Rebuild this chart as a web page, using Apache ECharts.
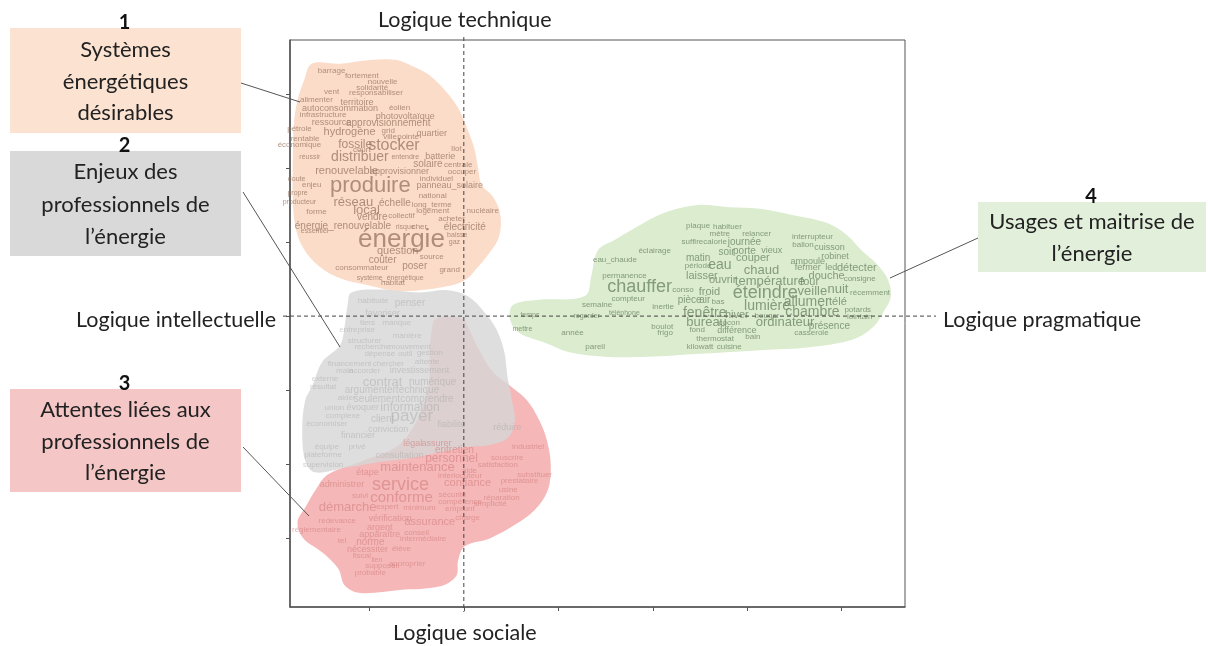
<!DOCTYPE html>
<html>
<head>
<meta charset="utf-8">
<script src="https://cdn.jsdelivr.net/npm/echarts@6/dist/echarts.min.js"></script>
<style>
html, body { margin: 0; padding: 0; background: #fff; }
#main { width: 1208px; height: 646px; }
</style>
</head>
<body>
<div id="main"></div>
<script>
// mots : [mot, x, y, fréquence]
const motsSystemes = [
    ['barrage', -1.40, 3.32, 2], ['fortement', -1.08, 3.24, 2], ['nouvelle', -0.86, 3.16, 2],
    ['solidarité', -0.97, 3.08, 2], ['vent', -1.40, 3.03, 2], ['responsabiliser', -0.93, 3.01, 2],
    ['alimenter', -1.56, 2.92, 2], ['territoire', -1.13, 2.89, 3], ['autoconsommation', -1.31, 2.81, 3],
    ['éolien', -0.68, 2.82, 2], ['infrastructure', -1.49, 2.72, 2], ['photovoltaïque', -0.62, 2.70, 3],
    ['ressource', -1.40, 2.62, 3], ['approvisionnement', -0.80, 2.61, 4], ['pétrole', -1.74, 2.53, 2],
    ['hydrogène', -1.21, 2.49, 5], ['grid', -0.80, 2.50, 2], ['ville', -0.78, 2.42, 2],
    ['pointe', -0.59, 2.42, 2], ['quartier', -0.34, 2.46, 3], ['rentable', -1.68, 2.39, 2],
    ['économique', -1.74, 2.31, 2], ['fossile', -1.15, 2.32, 6], ['court', -1.08, 2.24, 2],
    ['stocker', -0.74, 2.30, 10], ['réussir', -1.63, 2.15, 1], ['distribuer', -1.10, 2.15, 8],
    ['entendre', -0.62, 2.15, 1], ['batterie', -0.25, 2.15, 3], ['îlot', -0.08, 2.26, 2],
    ['solaire', -0.38, 2.05, 4], ['centrale', -0.06, 2.04, 2], ['renouvelable', -1.24, 1.96, 5],
    ['approvisionner', -0.68, 1.96, 3], ['occuper', -0.02, 1.95, 2], ['individuel', -0.29, 1.85, 2],
    ['doute', -1.77, 1.85, 1], ['enjeu', -1.61, 1.78, 2], ['produire', -0.99, 1.76, 16],
    ['panneau_solaire', -0.15, 1.77, 3], ['propre', -1.76, 1.66, 1], ['national', -0.33, 1.62, 2],
    ['producteur', -1.74, 1.54, 1], ['réseau', -1.17, 1.54, 7], ['échelle', -0.73, 1.53, 4],
    ['long_terme', -0.34, 1.51, 2], ['local', -1.03, 1.43, 7], ['forme', -1.56, 1.41, 2],
    ['collectif', -0.66, 1.35, 2], ['logement', -0.33, 1.42, 2], ['nucléaire', 0.20, 1.42, 2],
    ['vendre', -0.97, 1.34, 4], ['acheter', -0.13, 1.31, 2], ['énergie_renouvelable', -1.28, 1.22, 4],
    ['risque', -0.62, 1.20, 1], ['cher', -0.47, 1.20, 2], ['électricité', 0.01, 1.20, 4],
    ['essentiel', -1.58, 1.15, 1], ['énergie', -0.66, 1.03, 20], ['baisse', -0.07, 1.09, 1],
    ['gaz', -0.10, 1.00, 1], ['question', -0.70, 0.88, 5], ['source', -0.34, 0.80, 2],
    ['coûter', -0.86, 0.76, 4], ['poser', -0.52, 0.68, 4], ['grand', -0.15, 0.62, 2],
    ['consommateur', -1.08, 0.65, 2], ['système_énergétique', -0.78, 0.51, 1], ['habitat', -0.75, 0.45, 2]
]

const motsEnjeux = [
    ['penser', -0.57, 0.18, 4], ['habitude', -0.96, 0.20, 2], ['favoriser', -0.86, 0.04, 3],
    ['tiers', -1.02, -0.09, 2], ['manque', -0.71, -0.09, 2], ['entreprise', -1.13, -0.19, 2],
    ['manière', -0.60, -0.26, 2], ['structurer', -1.05, -0.34, 2], ['recherche', -0.97, -0.42, 2],
    ['mouvement', -0.57, -0.41, 2], ['dépense', -0.89, -0.51, 2], ['outil', -0.62, -0.51, 2],
    ['gestion', -0.36, -0.49, 2], ['financement', -1.21, -0.64, 2], ['chercher', -0.80, -0.64, 2],
    ['attente', -0.39, -0.62, 2], ['main', -1.26, -0.74, 2], ['accorder', -1.05, -0.74, 2],
    ['investissement', -0.47, -0.74, 3], ['externe', -1.47, -0.85, 2], ['contrat', -0.86, -0.89, 7],
    ['numérique', -0.33, -0.89, 4], ['résultat', -1.49, -0.96, 2], ['argumenter', -0.99, -1.00, 4],
    ['technique', -0.49, -1.00, 4], ['aider', -1.24, -1.11, 2], ['seulement', -0.92, -1.12, 4],
    ['comprendre', -0.39, -1.12, 4], ['union', -1.37, -1.24, 2], ['évoquer', -1.07, -1.24, 3],
    ['information', -0.57, -1.24, 6], ['complexe', -1.28, -1.35, 2], ['client', -0.86, -1.39, 4],
    ['payer', -0.55, -1.35, 11], ['économiser', -1.45, -1.46, 2], ['conviction', -0.80, -1.53, 3],
    ['financier', -1.12, -1.62, 3], ['équipe', -1.45, -1.76, 2], ['privé', -1.13, -1.76, 2],
    ['plateforme', -1.49, -1.88, 2], ['consultation', -0.68, -1.88, 3], ['supervision', -1.49, -2.01, 2],
    ['fiabilité', -0.13, -1.47, 3], ['réduire', 0.46, -1.50, 3]
]

const motsAttentes = [
    ['étape', -1.02, -2.11, 3], ['maintenance', -0.49, -2.05, 7], ['administrer', -1.29, -2.27, 3],
    ['service', -0.67, -2.28, 12], ['suivi', -1.10, -2.43, 2], ['conforme', -0.66, -2.45, 9],
    ['démarche', -1.23, -2.59, 7], ['expert', -0.81, -2.58, 2], ['vérification', -0.78, -2.73, 3],
    ['redevance', -1.34, -2.77, 2], ['réglementaire', -1.56, -2.89, 2], ['argent', -0.89, -2.85, 3],
    ['apparaître', -0.89, -2.95, 3], ['tel', -1.29, -3.03, 2], ['norme', -0.99, -3.05, 4],
    ['nécessiter', -1.02, -3.15, 3], ['élève', -0.66, -3.15, 2], ['fiscal', -1.08, -3.24, 2],
    ['lien', -0.92, -3.30, 1], ['supposer', -0.87, -3.38, 2], ['approprier', -0.60, -3.35, 2],
    ['probable', -0.99, -3.47, 2], ['légal', -0.54, -1.72, 3], ['assurer', -0.29, -1.72, 3],
    ['entretien', -0.10, -1.81, 4], ['personnel', -0.13, -1.92, 6], ['industriel', 0.68, -1.77, 2],
    ['souscrire', 0.46, -1.92, 2], ['satisfaction', 0.36, -2.01, 2], ['aide', 0.06, -2.09, 2],
    ['interlocuteur', -0.04, -2.16, 2], ['substituer', 0.75, -2.15, 2], ['prestataire', 0.59, -2.23, 2],
    ['confiance', 0.04, -2.26, 5], ['usine', 0.47, -2.35, 2], ['sécurité', -0.12, -2.42, 2],
    ['réparation', 0.40, -2.45, 2], ['compétence', -0.04, -2.51, 2], ['simplicité', 0.28, -2.53, 2],
    ['minimum', -0.47, -2.59, 2], ['emprunt', -0.04, -2.61, 2], ['charge', 0.04, -2.72, 2],
    ['assurance', -0.36, -2.78, 5], ['conseil', -0.50, -2.93, 2], ['intermédiaire', -0.43, -3.01, 2]
]

const motsUsages = [
    ['eau_chaude', 1.60, 0.76, 2], ['permanence', 1.70, 0.54, 2], ['chauffer', 1.86, 0.39, 12],
    ['compteur', 1.74, 0.24, 2], ['semaine', 1.41, 0.15, 2], ['temps', 0.70, 0.01, 1],
    ['regarder', 1.30, 0.00, 1], ['téléphone', 1.70, 0.04, 1], ['mettre', 0.62, -0.18, 1],
    ['année', 1.15, -0.23, 2], ['pareil', 1.39, -0.42, 2], ['plaque', 2.48, 1.22, 2],
    ['habituer', 2.79, 1.20, 2], ['mètre', 2.71, 1.11, 2], ['relancer', 3.10, 1.11, 2],
    ['suffire', 2.42, 1.00, 2], ['calorie', 2.66, 1.00, 2], ['journée', 2.97, 1.00, 4],
    ['éclairage', 2.02, 0.88, 2], ['soir', 2.78, 0.86, 4], ['porte', 2.97, 0.88, 4],
    ['vieux', 3.26, 0.88, 3], ['matin', 2.48, 0.78, 4], ['couper', 3.06, 0.78, 5],
    ['période', 2.48, 0.68, 2], ['eau', 2.71, 0.69, 8], ['chaud', 3.15, 0.62, 7],
    ['laisser', 2.52, 0.54, 5], ['ouvrir', 2.74, 0.49, 5], ['température', 3.24, 0.47, 7],
    ['conso', 2.32, 0.36, 2], ['froid', 2.60, 0.32, 5], ['éteindre', 3.19, 0.31, 12],
    ['inertie', 2.11, 0.12, 2], ['pièce', 2.39, 0.22, 4], ['air', 2.55, 0.22, 4],
    ['bas', 2.69, 0.19, 2], ['fenêtre', 2.55, 0.04, 8], ['hiver', 2.89, 0.01, 5],
    ['bouger', 3.21, 0.01, 2], ['lumière', 3.21, 0.14, 8], ['boulot', 2.10, -0.14, 2],
    ['frigo', 2.13, -0.22, 2], ['bureau', 2.57, -0.09, 7], ['cocon', 2.81, -0.09, 2],
    ['ordinateur', 3.40, -0.09, 7], ['fond', 2.47, -0.18, 2], ['différence', 2.89, -0.19, 3],
    ['thermostat', 2.66, -0.30, 2], ['bain', 3.06, -0.28, 2], ['kilowatt', 2.50, -0.41, 2],
    ['cuisine', 2.81, -0.41, 2], ['interrupteur', 3.69, 1.07, 2], ['ballon', 3.59, 0.97, 2],
    ['cuisson', 3.87, 0.92, 3], ['ampoule', 3.64, 0.74, 3], ['robinet', 3.93, 0.80, 3],
    ['fermer', 3.64, 0.65, 3], ['led', 3.89, 0.65, 3], ['détecter', 4.16, 0.65, 5],
    ['douche', 3.84, 0.54, 5], ['consigne', 4.19, 0.50, 2], ['four', 3.66, 0.46, 5],
    ['veille', 3.69, 0.34, 7], ['nuit', 3.96, 0.36, 7], ['récemment', 4.30, 0.31, 2],
    ['allumer', 3.63, 0.19, 8], ['télé', 3.96, 0.19, 5], ['chambre', 3.69, 0.05, 8],
    ['potards', 4.17, 0.09, 2], ['lointain', 4.19, -0.01, 2], ['présence', 3.87, -0.14, 4],
    ['casserole', 3.68, -0.22, 2]
]

// contours des zones
const zoneSystemes = [
    [-1.61, 3.41], [-1.31, 3.41], [-0.99, 3.46], [-0.71, 3.46], [-0.55, 3.38], [-0.38, 3.27],
    [-0.20, 3.05], [-0.06, 2.81], [0.03, 2.55], [0.11, 2.27], [0.15, 2.00], [0.19, 1.77],
    [0.31, 1.61], [0.38, 1.41], [0.39, 1.19], [0.35, 1.00], [0.25, 0.82], [0.14, 0.65],
    [0.02, 0.49], [-0.15, 0.41], [-0.47, 0.35], [-0.73, 0.34], [-0.99, 0.41], [-1.31, 0.51],
    [-1.54, 0.68], [-1.70, 0.92], [-1.78, 1.19], [-1.81, 1.57], [-1.81, 2.11], [-1.80, 2.58],
    [-1.76, 2.92], [-1.69, 3.19]
]
const zoneEnjeux = [
    [-1.19, 0.32], [-0.89, 0.36], [-0.47, 0.32], [-0.17, 0.35], [0.04, 0.27], [0.22, 0.05],
    [0.35, -0.19], [0.43, -0.49], [0.46, -0.80], [0.51, -1.14], [0.54, -1.41], [0.47, -1.64],
    [0.28, -1.74], [0.01, -1.77], [-0.25, -1.84], [-0.57, -1.92], [-0.89, -1.97], [-1.26, -2.05],
    [-1.58, -2.11], [-1.68, -1.95], [-1.71, -1.54], [-1.68, -1.14], [-1.60, -0.93], [-1.50, -0.62],
    [-1.31, -0.39], [-1.26, -0.12], [-1.23, 0.15]
]
const zoneAttentes = [
    [-0.29, -0.03], [-0.02, -0.03], [0.06, -0.19], [0.15, -0.43], [0.31, -0.76], [0.51, -0.96],
    [0.67, -1.14], [0.80, -1.41], [0.88, -1.68], [0.92, -2.01], [0.89, -2.35], [0.75, -2.62],
    [0.54, -2.82], [0.28, -3.00], [0.01, -3.11], [-0.06, -3.30], [-0.08, -3.51], [-0.25, -3.65],
    [-0.68, -3.70], [-1.10, -3.74], [-1.26, -3.64], [-1.33, -3.41], [-1.50, -3.19], [-1.70, -3.00],
    [-1.76, -2.78], [-1.68, -2.59], [-1.57, -2.35], [-1.44, -2.14], [-1.10, -1.97], [-0.73, -1.78],
    [-0.52, -1.47], [-0.38, -1.00], [-0.36, -0.46], [-0.34, -0.19]
]
const zoneUsages = [
    [1.42, 0.89], [1.60, 1.03], [1.81, 1.19], [2.11, 1.39], [2.47, 1.50], [2.81, 1.47],
    [3.13, 1.45], [3.50, 1.36], [3.84, 1.26], [4.06, 1.09], [4.21, 0.89], [4.38, 0.69],
    [4.49, 0.49], [4.52, 0.26], [4.44, 0.05], [4.33, -0.15], [4.11, -0.32], [3.66, -0.42],
    [3.13, -0.46], [2.50, -0.51], [1.94, -0.55], [1.49, -0.55], [1.12, -0.49], [0.86, -0.36],
    [0.59, -0.23], [0.49, -0.05], [0.52, 0.15], [0.80, 0.22], [1.28, 0.27], [1.35, 0.55]
]

const ticksX = [-1, 0, 1, 2, 3, 4]
const ticksY = [-3, -2, -1, 0, 1, 2, 3]

const chartDom = document.getElementById('main')
const myChart = echarts.init(chartDom)

const WORD_FONT = '"Liberation Sans", Arial, sans-serif'
const LABEL_FONT = 'Lato, "Open Sans", sans-serif'

function zone (outline, color, z) {
    return {
        type: 'custom',
        silent: true,
        z,
        data: [[0, 0]],
        renderItem: (params, api) => ({
            type: 'polygon',
            shape: { points: outline.map(p => api.coord(p)), smooth: 0.35 },
            style: { fill: color }
        })
    }
}

function mots (words, color) {
    return {
        type: 'custom',
        silent: true,
        z: 5,
        data: words.map(w => [w[1], w[2], w[3]]),
        renderItem: (params, api) => {
            const p = api.coord([api.value(0), api.value(1)])
            return {
                type: 'text',
                x: p[0],
                y: p[1],
                style: {
                    text: words[params.dataIndex][0],
                    fontSize: 6 + api.value(2),
                    fontFamily: WORD_FONT,
                    fill: color,
                    align: 'center',
                    verticalAlign: 'middle'
                }
            }
        }
    }
}

const option = {
    animation: false,
    grid: {
        left: 290, top: 40, right: 303, bottom: 39,
        show: true, borderColor: '#555', borderWidth: 1
    },
    xAxis: {
        type: 'value', min: -1.84, max: 4.67,
        axisLine: { show: true, onZero: false, lineStyle: { color: '#555', width: 1.5 } },
        axisTick: { show: true, customValues: ticksX, length: 4, lineStyle: { color: '#555' } },
        axisLabel: { show: false },
        splitLine: { show: false }
    },
    yAxis: {
        type: 'value', min: -3.93, max: 3.73,
        axisLine: { show: true, onZero: false, lineStyle: { color: '#555', width: 1.5 } },
        axisTick: { show: true, customValues: ticksY, length: 4, lineStyle: { color: '#555' } },
        axisLabel: { show: false },
        splitLine: { show: false }
    },
    series: [
        zone(zoneSystemes, '#fbdcc9', 1),
        zone(zoneAttentes, '#f5b7b7', 1),
        zone(zoneUsages, '#dbeccf', 1),
        zone(zoneEnjeux, 'rgba(214,214,214,0.8)', 2),
        mots(motsSystemes, 'rgba(150,115,95,0.75)'),
        mots(motsEnjeux, 'rgba(170,170,170,0.5)'),
        mots(motsAttentes, 'rgba(205,120,120,0.55)'),
        mots(motsUsages, 'rgba(110,135,100,0.8)')
    ]
}

myChart.setOption(option)

// repères et annotations
const origin = myChart.convertToPixel({ gridIndex: 0 }, [0, 0])
const dash = { stroke: '#444', lineWidth: 1, lineDash: [4, 3] }

function box (x, y, w, h, fill, num, text, lh) {
    return [
        { type: 'rect', shape: { x, y, width: w, height: h }, style: { fill }, z: 10 },
        {
            type: 'text', x: x + w / 2, y: y + h / 2 + 1, z: 11,
            style: { text, fontSize: 22, fontFamily: LABEL_FONT, fill: '#222', align: 'center', verticalAlign: 'middle', lineHeight: lh }
        },
        {
            type: 'text', x: x + w / 2 - 1, y: y - 5, z: 11,
            style: { text: num, fontSize: 20, fontWeight: 'bold', fontFamily: LABEL_FONT, fill: '#111', align: 'center', verticalAlign: 'middle' }
        }
    ]
}

function axisText (text, x, y, align) {
    return {
        type: 'text', x, y, z: 11,
        style: { text, fontSize: 21.5, fontFamily: LABEL_FONT, fill: '#222', align, verticalAlign: 'middle' }
    }
}

function leader (x1, y1, x2, y2) {
    return { type: 'line', z: 11, shape: { x1, y1, x2, y2 }, style: { stroke: '#555', lineWidth: 1 } }
}

myChart.setOption({
    graphic: [
        { type: 'line', z: 8, shape: { x1: 283, y1: origin[1], x2: 936, y2: origin[1] }, style: dash },
        { type: 'line', z: 8, shape: { x1: origin[0], y1: 37, x2: origin[0], y2: 612 }, style: dash },
        axisText('Logique technique', origin[0] + 1, 20, 'center'),
        axisText('Logique sociale', origin[0] + 1, 633, 'center'),
        axisText('Logique intellectuelle', 276, 320, 'right'),
        axisText('Logique pragmatique', 943, 320, 'left'),
        ...box(10, 28, 231, 105, '#fbe2d1', '1', 'Systèmes\nénergétiques\ndésirables', 31.5),
        ...box(10, 151, 231, 105, '#d9d9d9', '2', 'Enjeux des\nprofessionnels de\nl\u2019énergie', 32.5),
        ...box(10, 389, 231, 103, '#f5c6c6', '3', 'Attentes liées aux\nprofessionnels de\nl\u2019énergie', 31.5),
        ...box(978, 202, 228, 70, '#e2efda', '4', 'Usages et maitrise de\nl\u2019énergie', 32),
        leader(241, 83, 300, 102),
        leader(243, 192, 340, 347),
        leader(243, 447, 309, 516),
        leader(978, 238, 890, 278)
    ]
})
</script>
</body>
</html>
